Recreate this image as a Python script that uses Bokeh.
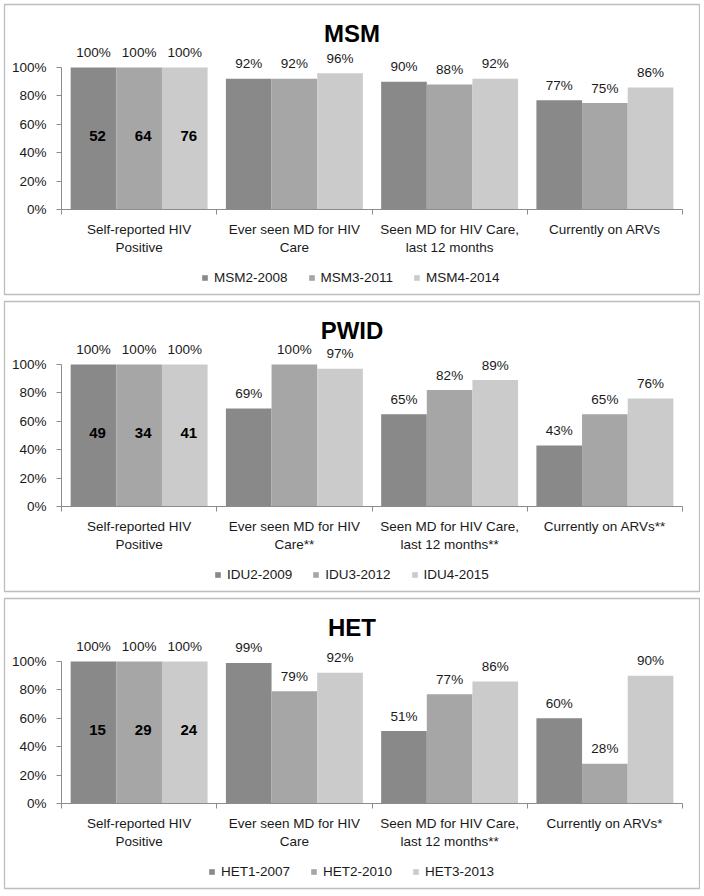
from bokeh.plotting import figure
from bokeh.models import (ColumnDataSource, Range1d, FixedTicker, Legend, LegendItem, Label)
from bokeh.layouts import column
from bokeh.core.properties import value
from bokeh.embed import file_html
from bokeh.resources import INLINE

# ---------------- data ----------------
y_ticks = [0, 20, 40, 60, 80, 100]
y_tick_labels = ["0%", "20%", "40%", "60%", "80%", "100%"]

msm_title = "MSM"
msm_categories = ["Self-reported HIV\nPositive", "Ever seen MD for HIV\nCare",
                  "Seen MD for HIV Care,\nlast 12 months", "Currently on ARVs"]
msm_series = ["MSM2-2008", "MSM3-2011", "MSM4-2014"]
msm_s1 = [100, 92, 90, 77]
msm_s2 = [100, 92, 88, 75]
msm_s3 = [100, 96, 92, 86]
msm_counts = ["52", "64", "76"]

pwid_title = "PWID"
pwid_categories = ["Self-reported HIV\nPositive", "Ever seen MD for HIV\nCare**",
                   "Seen MD for HIV Care,\nlast 12 months**", "Currently on ARVs**"]
pwid_series = ["IDU2-2009", "IDU3-2012", "IDU4-2015"]
pwid_s1 = [100, 69, 65, 43]
pwid_s2 = [100, 100, 82, 65]
pwid_s3 = [100, 97, 89, 76]
pwid_counts = ["49", "34", "41"]

het_title = "HET"
het_categories = ["Self-reported HIV\nPositive", "Ever seen MD for HIV\nCare",
                  "Seen MD for HIV Care,\nlast 12 months**", "Currently on ARVs*"]
het_series = ["HET1-2007", "HET2-2010", "HET3-2013"]
het_s1 = [100, 99, 51, 60]
het_s2 = [100, 79, 77, 28]
het_s3 = [100, 92, 86, 90]
het_counts = ["15", "29", "24"]

# ---------------- style ----------------
FONT = "Liberation Sans"
FS = 13.5
COLORS = ["#898989", "#a6a6a6", "#cbcbcb"]
TEXT = "#1a1a1a"
AXIS = "#8c8c8c"
BAR_W = 0.294
OFFSETS = [-BAR_W, 0.0, BAR_W]
W, H = 700, 297
MB_L, MB_R, MB_T, MB_B = 4, 1, 4, 3
FW, FH = W - MB_L - MB_R, H - MB_T - MB_B      # panel (frame) size
LEFT_PX, RIGHT_PX = 57, 17          # space left / right of the category axis
ZERO_PX, PX_PER_PCT = 205, 1.42     # y pixel of 0 %, pixels per percentage point
LEG_CENTER_PX = 349                 # horizontal centre of the legend
# approximate advance widths (em) used only to centre the legend
CHAR_W = {"M": .833, "S": .667, "I": .278, "D": .722, "U": .722, "H": .722,
          "E": .667, "T": .611, "-": .333}
GLYPH_W, STANDOFF, SPACING, PAD = 7, 6, 20, 2


def text_width(s):
    return sum(CHAR_W.get(c, .556) for c in s) * FS


def make_panel(title, categories, series, values, counts):
    n = len(categories)
    ppu = (FW - LEFT_PX - RIGHT_PX) / n
    x0, x1 = -LEFT_PX / ppu, n + RIGHT_PX / ppu
    y1 = ZERO_PX / PX_PER_PCT
    y0 = -(FH - ZERO_PX) / PX_PER_PCT
    p = figure(width=W, height=H, output_backend="svg", toolbar_location=None,
               title=None, x_range=Range1d(x0, x1), y_range=Range1d(y0, y1),
               min_border_left=MB_L, min_border_right=MB_R,
               min_border_top=MB_T, min_border_bottom=MB_B)
    p.outline_line_color = "#bdbdbd"
    p.outline_line_width = 1.3
    p.xgrid.visible = False
    p.ygrid.visible = False
    p.background_fill_color = "white"
    p.border_fill_color = "white"

    p.add_layout(Label(x=(x0 + x1) / 2, y=(ZERO_PX - 29) / PX_PER_PCT, text=title,
                       text_align="center", text_baseline="middle",
                       text_font=FONT, text_font_size="24px",
                       text_font_style="bold", text_color="#000000"))

    items = []
    for k, (name, vals) in enumerate(zip(series, values)):
        xs = [i + 0.5 + OFFSETS[k] for i in range(n)]
        src = ColumnDataSource(dict(x=xs, top=vals, lab=[f"{v}%" for v in vals]))
        r = p.vbar(x="x", top="top", width=BAR_W, bottom=0, source=src,
                   fill_color=COLORS[k], line_color=None)
        items.append(LegendItem(label=name, renderers=[r]))
        p.text(x="x", y="top", text="lab", source=src, text_align="center",
               text_baseline="middle", y_offset=-15, text_font=value(FONT),
               text_font_size=f"{FS}px", text_color=TEXT)
        # sample size labels inside first group
        csrc = ColumnDataSource(dict(x=[xs[0]], y=[vals[0] / 2], t=[counts[k]]))
        p.text(x="x", y="y", text="t", source=csrc, text_align="center",
               text_baseline="middle", x_offset=4, y_offset=-3,
               text_font=value(FONT), text_font_size="15px",
               text_font_style="bold", text_color="#000000")

    # y axis
    ya = p.yaxis[0]
    ya.fixed_location = 0
    ya.ticker = FixedTicker(ticks=y_ticks)
    ya.major_label_overrides = {t: l for t, l in zip(y_ticks, y_tick_labels)}
    ya.bounds = (0, 100)
    ya.axis_line_color = AXIS
    ya.major_tick_line_color = AXIS
    ya.major_tick_out = 5
    ya.major_tick_in = 0
    ya.minor_tick_line_color = None
    ya.major_label_standoff = 10
    ya.major_label_text_font = FONT
    ya.major_label_text_font_size = f"{FS}px"
    ya.major_label_text_color = TEXT

    # x axis: labels at group centres, tick marks at group boundaries
    xa = p.xaxis[0]
    xa.fixed_location = 0
    centers = [i + 0.5 for i in range(n)]
    xa.ticker = FixedTicker(ticks=centers, minor_ticks=list(range(n + 1)))
    xa.major_label_overrides = {c: lab for c, lab in zip(centers, categories)}
    xa.bounds = (0, n)
    xa.axis_line_color = AXIS
    xa.major_tick_line_color = None
    xa.minor_tick_line_color = AXIS
    xa.minor_tick_out = 5
    xa.minor_tick_in = 0
    xa.major_label_standoff = 6
    xa.major_label_text_font = FONT
    xa.major_label_text_font_size = f"{FS}px"
    xa.major_label_text_color = TEXT

    leg_w = sum(GLYPH_W + STANDOFF + text_width(s) for s in series) \
        + SPACING * (len(series) - 1) + 2 * PAD
    leg = Legend(items=items, orientation="horizontal",
                 location=(round(LEG_CENTER_PX - leg_w / 2), 9),
                 glyph_width=GLYPH_W, glyph_height=7, label_standoff=STANDOFF,
                 spacing=SPACING, label_text_font=FONT, label_text_font_size=f"{FS}px",
                 label_text_color=TEXT, border_line_color=None,
                 background_fill_alpha=0, padding=PAD, margin=0)
    p.add_layout(leg)
    return p


p1 = make_panel(msm_title, msm_categories, msm_series, [msm_s1, msm_s2, msm_s3], msm_counts)
p2 = make_panel(pwid_title, pwid_categories, pwid_series, [pwid_s1, pwid_s2, pwid_s3], pwid_counts)
p3 = make_panel(het_title, het_categories, het_series, [het_s1, het_s2, het_s3], het_counts)

layout = column(p1, p2, p3, spacing=0)
open("out.html", "w").write(file_html(layout, INLINE))
